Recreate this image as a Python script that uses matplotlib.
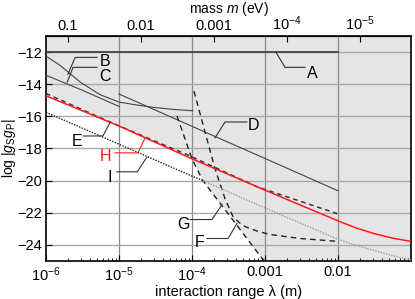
import numpy as np
import matplotlib
matplotlib.use("Agg")
import matplotlib.pyplot as plt

plt.rcParams['font.family'] = ['Liberation Sans', 'DejaVu Sans']
plt.rcParams['mathtext.fontset'] = 'custom'
plt.rcParams['mathtext.rm'] = 'Liberation Sans'
plt.rcParams['mathtext.it'] = 'Liberation Sans:italic'
plt.rcParams['mathtext.bf'] = 'Liberation Sans:bold'

# ---- data (log10 of lambda in m, log10 |gS gP|) ----
A_x = [-6.0, -2.0]
A_y = [-12.0, -12.0]

B_x = [-6.0, -5.81, -5.53, -5.26, -5.0, -4.75, -4.51, -4.23, -3.99]
B_y = [-12.25, -12.82, -13.87, -14.65, -15.11, -15.30, -15.45, -15.58, -15.65]

C_x = [-6.0, -5.5, -5.0]
C_y = [-13.44, -14.38, -15.38]

D_x = [-5.0, -4.0, -3.0, -2.0]
D_y = [-14.61, -16.62, -18.62, -20.63]

E_x = [-6.0, -5.12, -4.03, -3.11, -2.0]
E_y = [-14.58, -16.36, -18.46, -20.38, -22.07]

F_x = [-3.973, -3.822, -3.685, -3.548, -3.438, -3.35, -3.274, -3.1, -2.932, -2.521, -2.0]
F_y = [-14.43, -16.97, -19.26, -21.12, -22.24, -22.62, -22.86, -23.15, -23.35, -23.60, -23.78]

G_x = [-4.205, -4.0, -3.85, -3.589, -3.04, -3.0]
G_y = [-15.98, -18.65, -20.01, -21.56, -24.84, -25.0]

H_x = [-6.0, -5.0, -4.0, -3.0, -2.5, -2.0, -1.75, -1.5, -1.25, -1.0]
H_y = [-14.72, -16.6, -18.64, -20.59, -21.55, -22.5, -22.95, -23.3, -23.58, -23.78]

I_x = [-6.0, -5.0, -4.0, -3.85, -3.0, -2.0, -1.75, -1.5, -1.25, -1.0]
I_y = [-15.75, -17.73, -19.72, -20.0, -21.7, -23.65, -24.02, -24.35, -24.67, -24.95]
I_split = -3.85

x_ticks = [1e-6, 1e-5, 1e-4, 1e-3, 1e-2]
x_ticklabels = ['$10^{-6}$', '$10^{-5}$', '$10^{-4}$', '0.001', '0.01']
m_ticks = [0.1, 0.01, 0.001, 1e-4, 1e-5]
m_ticklabels = ['0.1', '0.01', '0.001', '$10^{-4}$', '$10^{-5}$']
y_ticks = [-12, -14, -16, -18, -20, -22, -24]
hbarc = 1.973e-7  # eV m

# labels: (text, text position, leader path)
labels = [
    ('A', (-2.356, -13.32), [(-2.849, -12.02), (-2.726, -12.95), (-2.452, -12.95)], 'black'),
    ('B', (-5.19, -12.58), [(-5.70, -13.38), (-5.60, -12.33), (-5.30, -12.33)], 'black'),
    ('C', (-5.19, -13.50), [(-5.71, -13.88), (-5.63, -12.95), (-5.30, -12.95)], 'black'),
    ('D', (-3.16, -16.60), [(-3.685, -17.34), (-3.548, -16.35), (-3.247, -16.35)], 'black'),
    ('E', (-5.575, -17.59), [(-5.12, -16.35), (-5.22, -17.22), (-5.49, -17.22)], 'black'),
    ('H', (-5.18, -18.52), [(-4.644, -17.35), (-4.74, -18.27), (-5.055, -18.27)], 'red'),
    ('I', (-5.12, -19.82), [(-4.62, -18.55), (-4.75, -19.45), (-5.03, -19.45)], 'black'),
    ('G', (-4.123, -22.74), [(-3.589, -21.49), (-3.726, -22.42), (-4.027, -22.42)], 'black'),
    ('F', (-3.89, -23.85), [(-3.384, -22.67), (-3.507, -23.60), (-3.795, -23.60)], 'black'),
]

fig = plt.figure(figsize=(4.15, 2.99), dpi=100)
ax = fig.add_axes([46/415, 1-261/299, 365/415, 225/299])
ax.set_xscale('log')
ax.set_xlim(1e-6, 1e-1)
ax.set_ylim(-25, -11)
ax.set_facecolor('#e5e5e5')

def L(v):
    return 10.0 ** np.asarray(v)

# white (allowed) region: below E and left of G
xf = np.linspace(-6, -1, 2000)
Ef = np.interp(xf, E_x, E_y)
Gf = np.where(xf < G_x[0], np.inf, np.interp(xf, G_x, G_y))
upper = np.minimum(Ef, Gf)
upper = np.where(xf > G_x[-1], -25, upper)
ax.fill_between(L(xf), -25, upper, color='white', lw=0, zorder=1)

# grid
for xt in x_ticks[1:]:
    ax.axvline(xt, color='#8a8a8a', lw=0.9, zorder=1.5)
for yt in y_ticks:
    ax.axhline(yt, color='#a8a8a8', lw=1.0, zorder=1.5)

ax.plot(L(A_x), A_y, color='#444444', lw=1.3, zorder=3)
ax.plot(L(B_x), B_y, color='#444444', lw=0.8, zorder=3)
ax.plot(L(C_x), C_y, color='#444444', lw=0.8, zorder=3)
ax.plot(L(D_x), D_y, color='#444444', lw=0.8, zorder=3)
ax.plot(L(E_x), E_y, color='#333333', lw=1.1, ls=(0, (3, 2.5)), zorder=3)
ax.plot(L(F_x), F_y, color='#222222', lw=1.0, ls=(0, (4, 3)), zorder=3)
ax.plot(L(G_x), G_y, color='#222222', lw=1.0, ls=(0, (4, 3)), zorder=3)
ax.plot(L(H_x), H_y, color='#ff1a1a', lw=1.1, zorder=4)
xi = np.array(I_x); yi = np.array(I_y)
m1 = xi <= I_split
ax.plot(L(xi[m1]), yi[m1], color='#222222', lw=1.0, ls=(0, (1, 1)), zorder=3)
m2 = xi >= I_split
ax.plot(L(xi[m2]), yi[m2], color='#9a9a9a', lw=1.0, ls=(0, (1, 1)), zorder=3)

for txt, pos, path, col in labels:
    px = [L(p[0]) for p in path]
    py = [p[1] for p in path]
    ax.plot(px, py, color=('#ff1a1a' if col == 'red' else '#333333'), lw=0.8, zorder=5)
    ax.text(L(pos[0]), pos[1], txt, color=('#ff1a1a' if col == 'red' else 'black'),
            fontsize=11.5, ha='center', va='center', zorder=6)

ax.set_xticks(x_ticks)
ax.set_xticklabels(x_ticklabels)
ax.set_yticks(y_ticks)
ax.set_yticklabels(['\u2212%d' % abs(v) for v in y_ticks])
ax.tick_params(axis='both', which='major', direction='in', length=4, labelsize=10.5, pad=3)
ax.tick_params(axis='x', which='minor', direction='in', length=2)
ax.tick_params(axis='y', which='minor', left=False)
for s in ax.spines.values():
    s.set_linewidth(1.2)
    s.set_color('black')

ax.set_xlabel('interaction range \u03bb (m)', fontsize=10.5, labelpad=1)
ax.set_ylabel(r'log $|g_{\mathrm{S}}g_{\mathrm{P}}|$', fontsize=10, labelpad=-1)

f = lambda x: hbarc / np.clip(x, 1e-30, None)
sec = ax.secondary_xaxis('top', functions=(f, f))
sec.set_xticks(m_ticks)
sec.set_xticklabels(m_ticklabels)
sec.tick_params(axis='x', which='major', direction='in', length=4, labelsize=10.5, pad=2)
sec.tick_params(axis='x', which='minor', top=False)
sec.set_xlabel('mass $m$ (eV)', fontsize=10, labelpad=1)

fig.savefig('out.png', dpi=100)
